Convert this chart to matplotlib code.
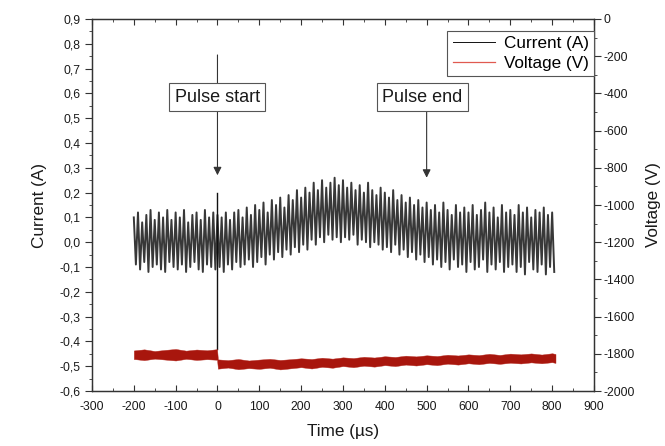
import numpy as np
import matplotlib
matplotlib.use("Agg")
import matplotlib.pyplot as plt
from matplotlib.lines import Line2D
from matplotlib.ticker import MultipleLocator, FuncFormatter

plt.rcParams['font.family'] = ['Liberation Sans', 'DejaVu Sans']
plt.rcParams['axes.unicode_minus'] = False

# current (A): oscillation peaks every 10 us, troughs half a period later
t_peak = np.arange(-200, 801, 10)
cur_peak = [
    0.10, 0.12, 0.08, 0.11, 0.13, 0.09, 0.12, 0.10, 0.13, 0.09,
    0.12, 0.10, 0.13, 0.08, 0.11, 0.12, 0.09, 0.13, 0.10, 0.12,
    0.11, 0.10, 0.12, 0.09, 0.12, 0.13, 0.10, 0.14, 0.11, 0.15,
    0.13, 0.16, 0.12, 0.17, 0.15, 0.18, 0.14, 0.19, 0.17, 0.21,
    0.18, 0.22, 0.20, 0.24, 0.21, 0.25, 0.22, 0.24, 0.26, 0.23,
    0.25, 0.22, 0.24, 0.21, 0.23, 0.20, 0.24, 0.21, 0.19, 0.22,
    0.20, 0.18, 0.21, 0.17, 0.19, 0.16, 0.18, 0.15, 0.17, 0.14,
    0.16, 0.13, 0.15, 0.12, 0.16, 0.13, 0.11, 0.15, 0.12, 0.14,
    0.12, 0.15, 0.11, 0.13, 0.16, 0.12, 0.14, 0.10, 0.15, 0.12,
    0.13, 0.11, 0.15, 0.12, 0.14, 0.10, 0.13, 0.12, 0.14, 0.11, 0.12,
]
t_trough = t_peak + 5
cur_trough = [
    -0.09, -0.11, -0.08, -0.12, -0.10, -0.09, -0.11, -0.12, -0.08, -0.10,
    -0.11, -0.09, -0.12, -0.10, -0.08, -0.11, -0.12, -0.09, -0.10, -0.11,
    -0.10, -0.12, -0.09, -0.11, -0.08, -0.10, -0.09, -0.07, -0.10, -0.08,
    -0.06, -0.09, -0.05, -0.07, -0.04, -0.06, -0.03, -0.05, -0.02, -0.04,
    -0.01, -0.03, 0.01, -0.01, 0.02, 0.00, 0.03, 0.01, 0.02, 0.00,
    0.02, 0.01, 0.03, -0.01, 0.01, 0.00, -0.02, 0.00, -0.01, -0.03,
    -0.02, -0.04, -0.01, -0.05, -0.03, -0.06, -0.04, -0.07, -0.05, -0.08,
    -0.06, -0.09, -0.07, -0.10, -0.08, -0.11, -0.07, -0.10, -0.09, -0.12,
    -0.08, -0.11, -0.10, -0.07, -0.12, -0.09, -0.11, -0.08, -0.12, -0.10,
    -0.09, -0.12, -0.10, -0.13, -0.08, -0.11, -0.12, -0.09, -0.13, -0.10, -0.12,
]
spike_t = [0, 0]
spike_cur = [0.20, -0.43]

# voltage (V): edges of the noisy band
volt_t = [-200, -175, -150, -125, -100, -75, -50, -25, -1,
          1, 25, 50, 75, 100, 125, 150, 175, 200, 225, 250, 275, 300, 325,
          350, 375, 400, 425, 450, 475, 500, 525, 550, 575, 600, 625, 650,
          675, 700, 725, 750, 775, 800, 808]
volt_hi = [-1782, -1776, -1785, -1779, -1774, -1783, -1777, -1781, -1775,
           -1830, -1834, -1828, -1836, -1831, -1827, -1833, -1829, -1824, -1828,
           -1821, -1826, -1819, -1823, -1816, -1820, -1813, -1817, -1810, -1814,
           -1808, -1812, -1805, -1809, -1803, -1807, -1800, -1806, -1799, -1803,
           -1798, -1804, -1797, -1801]
volt_lo = [-1828, -1834, -1826, -1831, -1836, -1827, -1833, -1829, -1832,
           -1880, -1874, -1883, -1877, -1881, -1875, -1884, -1878, -1872, -1879,
           -1870, -1875, -1866, -1872, -1864, -1869, -1861, -1866, -1858, -1863,
           -1856, -1861, -1853, -1858, -1851, -1856, -1849, -1854, -1848, -1852,
           -1846, -1851, -1845, -1849]

# interleave peaks and troughs into one trace
cur_t = np.empty(2 * len(t_peak))
cur_t[0::2] = t_peak
cur_t[1::2] = t_trough
cur_v = np.empty(2 * len(cur_peak))
cur_v[0::2] = cur_peak
cur_v[1::2] = cur_trough

fig = plt.figure(figsize=(6.65, 4.46), dpi=100)
ax = fig.add_axes([0.1383, 0.1233, 0.7549, 0.8341])
ax2 = ax.twinx()

ax.plot(cur_t, cur_v, color='#383838', lw=1.4)
ax.plot(spike_t, spike_cur, color='#111111', lw=1.0)
ax2.fill_between(volt_t, volt_lo, volt_hi, color='#a8160d', lw=0.3, edgecolor='#b52a20')

ax.set_xlim(-300, 900)
ax.set_ylim(-0.6, 0.9)
ax2.set_ylim(-2000, 0)

ax.xaxis.set_major_locator(MultipleLocator(100))
ax.xaxis.set_minor_locator(MultipleLocator(50))
ax.yaxis.set_major_locator(MultipleLocator(0.1))
ax.yaxis.set_minor_locator(MultipleLocator(0.05))
ax.yaxis.set_major_formatter(FuncFormatter(lambda v, p: f"{round(v, 2) + 0.0:.1f}".replace('.', ',')))
ax2.yaxis.set_major_locator(MultipleLocator(200))
ax2.yaxis.set_minor_locator(MultipleLocator(100))

txt = '#1a1a1a'
ax.tick_params(axis='x', which='both', direction='in', top=True, labelsize=8.7, colors='#333', labelcolor=txt, pad=7)
ax.tick_params(axis='x', which='major', length=4)
ax.tick_params(axis='x', which='minor', length=2.5)
ax.tick_params(axis='y', which='both', direction='out', right=False, labelsize=8.7, colors='#333', labelcolor=txt, pad=3)
ax.tick_params(axis='y', which='major', length=5)
ax.tick_params(axis='y', which='minor', length=2.5)
ax2.tick_params(axis='y', which='both', direction='out', labelsize=8.7, colors='#333', labelcolor=txt, pad=2)
ax2.tick_params(axis='y', which='major', length=5)
ax2.tick_params(axis='y', which='minor', length=2.5)
for a in (ax, ax2):
    for s in a.spines.values():
        s.set_color('#333')
        s.set_linewidth(0.9)

ax.set_xlabel("Time (µs)", fontsize=12.3, color=txt, labelpad=8)
ax.set_ylabel("Current (A)", fontsize=12.3, color=txt, labelpad=9)
ax2.set_ylabel("Voltage (V)", fontsize=12.3, color=txt, labelpad=8)

# pulse markers
arrow = dict(arrowstyle='-|>', color='#333', lw=0.8, mutation_scale=12, shrinkA=0, shrinkB=0)
box = dict(boxstyle='square,pad=0.3', fc='white', ec='#555', lw=0.8)
ax.annotate('', xy=(0, 0.27), xytext=(0, 0.755), arrowprops=arrow, zorder=3)
ax.text(0, 0.585, "Pulse start", fontsize=13, color=txt, ha='center', va='center', bbox=box, zorder=4)
ax.annotate('', xy=(500, 0.26), xytext=(500, 0.53), arrowprops=arrow, zorder=3)
ax.text(490, 0.585, "Pulse end", fontsize=13, color=txt, ha='center', va='center', bbox=box, zorder=4)

handles = [Line2D([], [], color='#111', lw=0.7), Line2D([], [], color='#e05a50', lw=0.9)]
leg = ax2.legend(handles, ["Current (A)", "Voltage (V)"], loc='upper right',
                 bbox_to_anchor=(1.0, 1 - 12 / 372), borderaxespad=0, fontsize=12.3,
                 fancybox=False, framealpha=1, edgecolor='#555', handlelength=2.5,
                 handletextpad=0.5, borderpad=0.3, labelspacing=0.3)
leg.get_frame().set_linewidth(0.8)

fig.savefig("out.png", dpi=100)
